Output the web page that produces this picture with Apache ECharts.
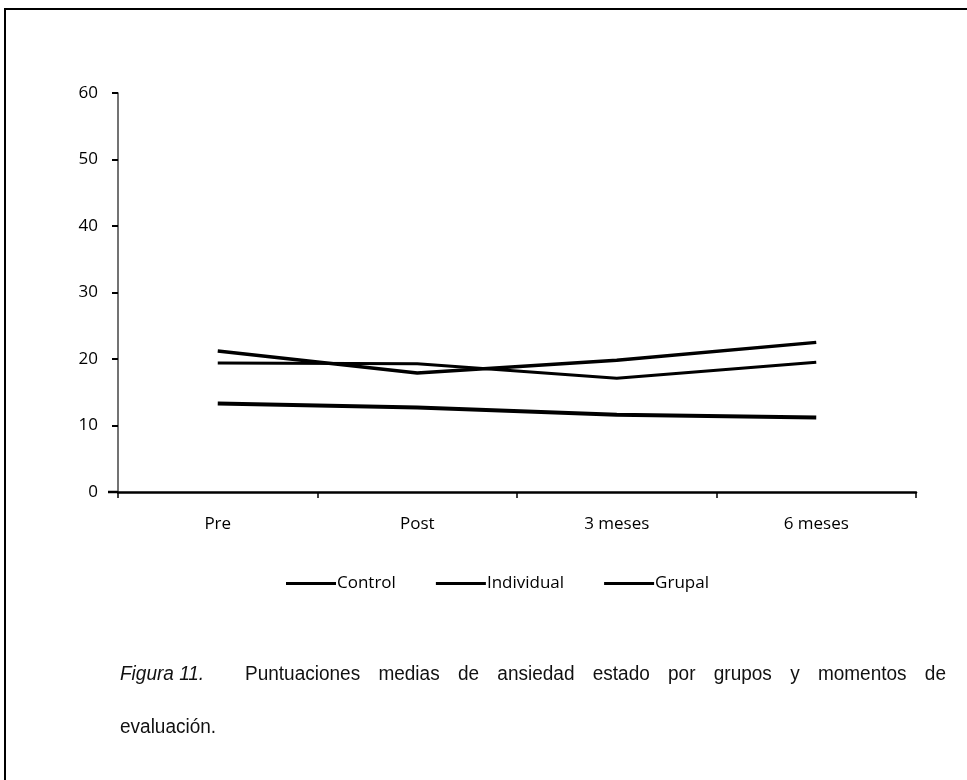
<!DOCTYPE html>
<html>
<head>
<meta charset="utf-8">
<script src="https://cdn.jsdelivr.net/npm/echarts@6/dist/echarts.min.js"></script>
<style>
html,body{margin:0;padding:0;background:#fff;}
#chart{width:967px;height:780px;}
</style>
</head>
<body>
<div id="chart"></div>
<script>
const categories = ['Pre', 'Post', '3 meses', '6 meses'];
const controlValues = [13.3, 12.7, 11.6, 11.2];
const individualValues = [21.2, 17.9, 19.8, 22.5];
const grupalValues = [19.4, 19.3, 17.1, 19.5];
const seriesNames = ['Control', 'Individual', 'Grupal'];
const captionLabel = 'Figura 11.';
const captionLine1 = 'Puntuaciones medias de ansiedad estado por grupos y momentos de';
const captionLine2 = 'evaluación.';

const chart = echarts.init(document.getElementById('chart'), null, {renderer: 'canvas'});

// justified caption words
const capFamily = '"Liberation Sans", Arial, sans-serif';
const capFont = '20px ' + capFamily;
const sx = 0.95;
const ctx = document.createElement('canvas').getContext('2d');
ctx.font = capFont;
const words = captionLine1.split(' ');
const startX = 245, endX = 946;
const total = words.reduce((s, w) => s + ctx.measureText(w).width * sx, 0);
const gap = (endX - startX - total) / (words.length - 1);
const wordGraphics = [];
let cx = startX;
words.forEach(w => {
  wordGraphics.push({type: 'text', x: cx, y: 664, scaleX: sx, style: {text: w, font: capFont, fill: '#111'}});
  cx += ctx.measureText(w).width * sx + gap;
});

const lineStyleFor = (w) => ({color: '#000', width: w});

chart.setOption({
  animation: false,
  backgroundColor: '#fff',
  grid: {left: 118, right: 51, top: 93, bottom: 288},
  legend: {
    data: seriesNames,
    top: 570,
    left: 281,
    icon: 'rect',
    itemWidth: 50,
    itemHeight: 3,
    itemGap: 40,
    textStyle: {fontFamily: 'Open Sans', fontSize: 17, color: '#000', padding: [0, 0, 0, -4]}
  },
  xAxis: {
    type: 'category',
    data: categories,
    boundaryGap: true,
    axisLine: {lineStyle: {color: '#000', width: 2.5}},
    axisTick: {show: true, length: 6, lineStyle: {color: '#000', width: 1.5}},
    axisLabel: {color: '#000', fontFamily: 'Open Sans', fontSize: 17, margin: 24}
  },
  yAxis: {
    type: 'value',
    min: 0, max: 60, interval: 10,
    axisLine: {show: true, lineStyle: {color: '#444', width: 1.5}},
    axisTick: {show: true, length: 6, lineStyle: {color: '#000', width: 2}},
    splitLine: {show: false},
    axisLabel: {color: '#000', fontFamily: 'Open Sans', fontSize: 17, margin: 20}
  },
  series: [
    {name: seriesNames[0], type: 'line', data: controlValues, symbol: 'none', lineStyle: lineStyleFor(4), itemStyle: {color: '#000'}},
    {name: seriesNames[1], type: 'line', data: individualValues, symbol: 'none', lineStyle: lineStyleFor(3.5), itemStyle: {color: '#000'}},
    {name: seriesNames[2], type: 'line', data: grupalValues, symbol: 'none', lineStyle: lineStyleFor(3), itemStyle: {color: '#000'}}
  ],
  graphic: [
    {type: 'polyline', shape: {points: [[5, 780], [5, 9], [967, 9]]}, style: {stroke: '#000', lineWidth: 2, fill: null}},
    {type: 'line', shape: {x1: 108, y1: 492, x2: 118, y2: 492}, style: {stroke: '#000', lineWidth: 2.5}},
    {type: 'text', x: 120, y: 664, scaleX: sx, style: {text: captionLabel, font: 'italic 20px ' + capFamily, fill: '#111'}},
    {type: 'text', x: 120, y: 717, scaleX: sx, style: {text: captionLine2, font: capFont, fill: '#111'}}
  ].concat(wordGraphics)
});
</script>
</body>
</html>
